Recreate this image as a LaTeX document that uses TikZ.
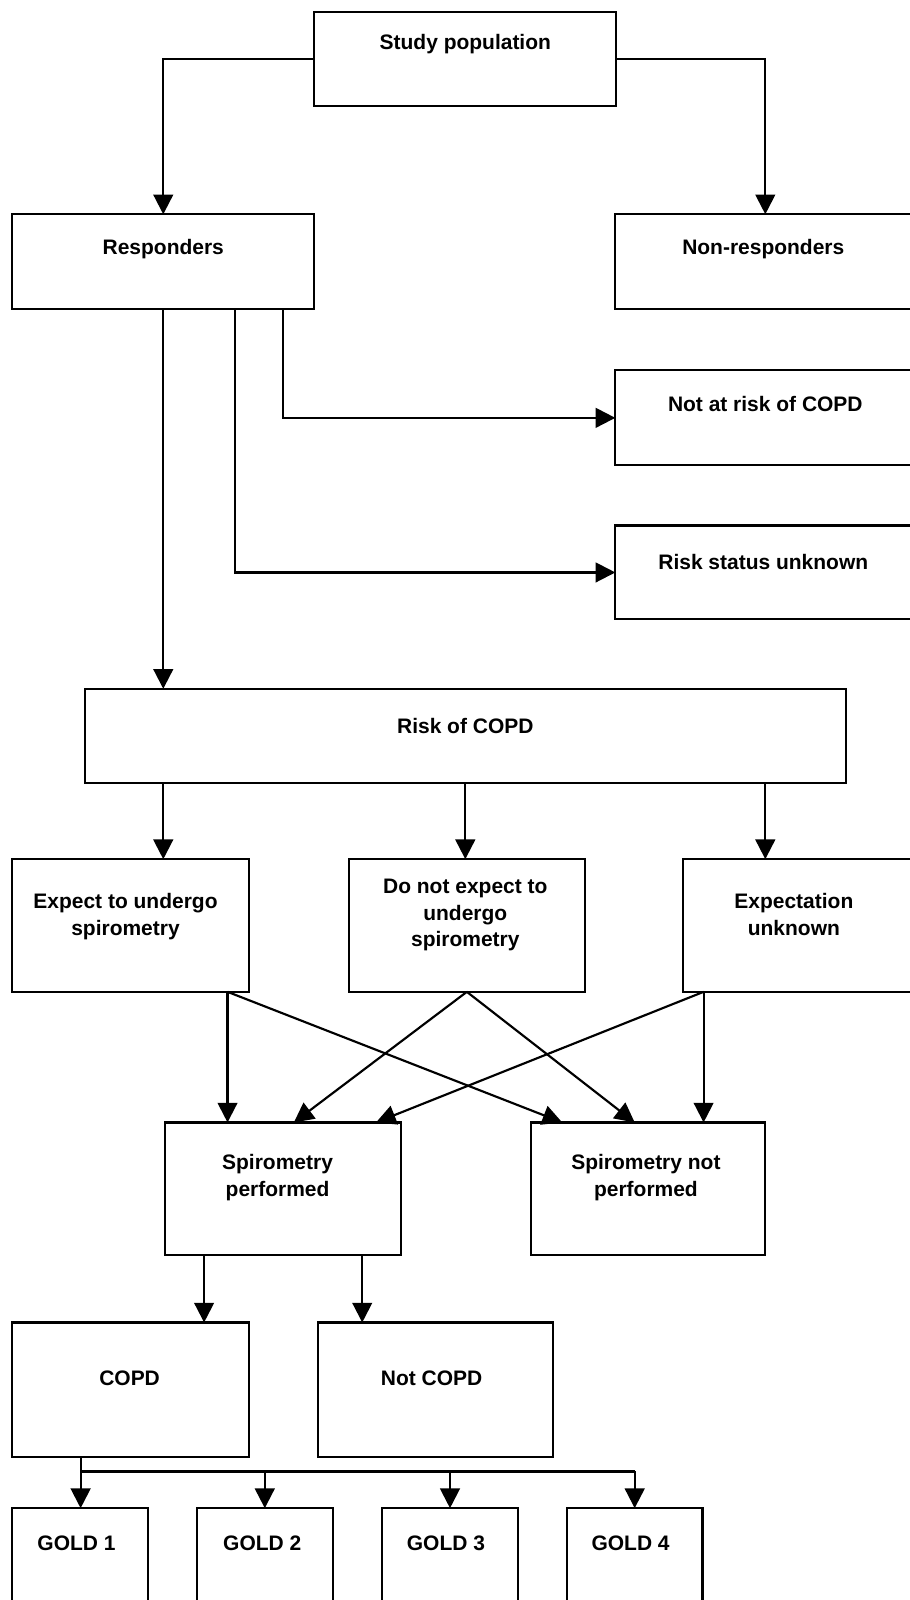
\documentclass[tikz,border=0pt]{standalone}
\usepackage{fontspec}
\setmainfont{Liberation Sans}
\usetikzlibrary{arrows.meta}
\begin{document}
\begin{tikzpicture}[x=0.02cm, y=-0.02cm,
    >={Triangle[length=11pt, width=11pt]},
    every path/.style={line width=1.2pt},
    box/.style={draw, rectangle, inner sep=0pt, outer sep=0pt, line width=1.2pt},
    txt/.style={font=\bfseries\fontsize{11.7}{14.8}\selectfont, align=center, inner sep=0pt}]
    \useasboundingbox (0,0) rectangle (891,1568);

    \node[box, minimum width=5.92cm, minimum height=1.84cm] (study) at (456,58) {};
    \node[box, minimum width=5.92cm, minimum height=1.86cm] (resp) at (160,256.5) {};
    \node[box, minimum width=5.88cm, minimum height=1.86cm] (nonresp) at (750,256.5) {};
    \node[box, minimum width=5.88cm, minimum height=1.86cm] (notrisk) at (750,409.5) {};
    \node[box, minimum width=5.88cm, minimum height=1.84cm] (riskunk) at (750,561) {};
    \node[box, minimum width=14.92cm, minimum height=1.84cm] (risk) at (456,721) {};
    \node[box, minimum width=4.64cm, minimum height=2.6cm] (expect) at (128,907) {};
    \node[box, minimum width=4.62cm, minimum height=2.6cm] (donot) at (457.5,907) {};
    \node[box, minimum width=4.62cm, minimum height=2.6cm] (expunk) at (784.5,907) {};
    \node[box, minimum width=4.62cm, minimum height=2.6cm] (spiro) at (277.5,1165) {};
    \node[box, minimum width=4.6cm, minimum height=2.6cm] (nospiro) at (635,1165) {};
    \node[box, minimum width=4.64cm, minimum height=2.64cm] (copd) at (128,1362) {};
    \node[box, minimum width=4.6cm, minimum height=2.64cm] (notcopd) at (427,1362) {};
    \node[box, minimum width=2.66cm, minimum height=2.44cm] (gold1) at (78.5,1539) {};
    \node[box, minimum width=2.66cm, minimum height=2.44cm] (gold2) at (259.5,1539) {};
    \node[box, minimum width=2.66cm, minimum height=2.44cm] (gold3) at (441,1539) {};
    \node[box, minimum width=2.66cm, minimum height=2.44cm] (gold4) at (622,1539) {};

    \node[txt] (study-t) at (456,43) {Study population};
    \node[txt] (resp-t) at (160,244) {Responders};
    \node[txt] (nonresp-t) at (748,244) {Non-responders};
    \node[txt] (notrisk-t) at (750,396) {Not at risk of COPD};
    \node[txt] (riskunk-t) at (748,551) {Risk status unknown};
    \node[txt] (risk-t) at (456,711) {Risk of COPD};
    \node[txt] (expect-t) at (123,898) {Expect to undergo\\spirometry};
    \node[txt] (donot-t) at (456,897) {Do not expect to\\undergo\\spirometry};
    \node[txt] (expunk-t) at (778,896) {Expectation\\unknown};
    \node[txt] (spiro-t) at (272,1154) {Spirometry\\performed};
    \node[txt] (nospiro-t) at (633,1154) {Spirometry not\\performed};
    \node[txt] (copd-t) at (127,1351) {COPD};
    \node[txt] (notcopd-t) at (423,1351) {Not COPD};
    \node[txt] (gold1-t) at (75,1512) {GOLD 1};
    \node[txt] (gold2-t) at (257,1512) {GOLD 2};
    \node[txt] (gold3-t) at (437,1512) {GOLD 3};
    \node[txt] (gold4-t) at (618,1512) {GOLD 4};

    \coordinate (r1) at ([xshift=-0.62cm]resp.south east);
    \coordinate (r2) at ([xshift=-1.56cm]resp.south east);
    \coordinate (e1) at ([xshift=1.9cm]expect.south);
    \coordinate (x1) at ([xshift=-1.9cm]expunk.south);
    \coordinate (s1) at ([xshift=-1.55cm]spiro.south);
    \coordinate (s2) at ([xshift=1.55cm]spiro.south);
    \coordinate (c1) at ([xshift=-0.98cm]copd.south);
    \coordinate (bus) at ([yshift=0.72cm]gold1.north);

    \draw[->] (study.west) -| (resp.north);
    \draw[->] (study.east) -| (nonresp.north);
    \draw[->] (r1) |- (notrisk.west);
    \draw[->] (r2) |- (riskunk.west);
    \draw[->] (resp.south) -- (resp.south |- risk.north);
    \draw[->] (risk.south -| resp.south) -- (expect.north -| resp.south);
    \draw[->] (risk.south) -- (risk.south |- donot.north);
    \draw[->] (risk.south -| nonresp.north) -- (expunk.north -| nonresp.north);
    \draw[->] (e1) -- (e1 |- spiro.north);
    \draw[->] (e1) -- ([xshift=0.62cm]nospiro.north west);
    \draw[->] (donot.south) -- ([xshift=0.21cm]spiro.north);
    \draw[->] (donot.south) -- ([xshift=-0.26cm]nospiro.north);
    \draw[->] (x1) -- ([xshift=1.82cm]spiro.north);
    \draw[->] (x1) -- (x1 |- nospiro.north);
    \draw[->] (s1) -- (s1 |- copd.north);
    \draw[->] (s2) -- (s2 |- notcopd.north);
    \draw[->] (c1) -- (c1 |- gold1.north);
    \draw (c1 |- bus) -- (gold4.north |- bus);
    \foreach \g in {2,3,4}
        \draw[->] (gold\g.north |- bus) -- (gold\g.north);
\end{tikzpicture}
\end{document}
